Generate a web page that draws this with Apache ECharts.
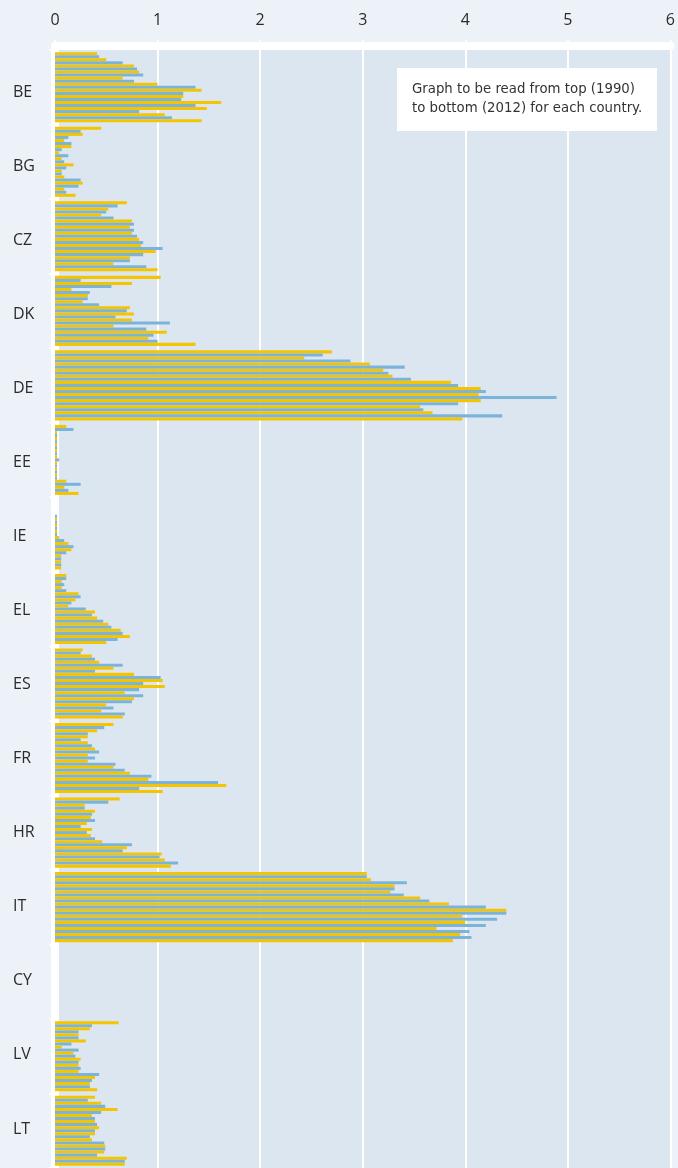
<!DOCTYPE html>
<html>
<head>
<meta charset="utf-8">
<script src="https://cdn.jsdelivr.net/npm/echarts@6/dist/echarts.min.js"></script>
<style>
  html, body { margin: 0; padding: 0; background: #edf2f9; }
  #chart { width: 678px; height: 1168px; }
</style>
</head>
<body>
<div id="chart"></div>
<script>
// Countries from top to bottom, and the years drawn inside each country band
const countries = ['BE', 'BG', 'CZ', 'DK', 'DE', 'EE', 'IE', 'EL', 'ES', 'FR', 'HR', 'IT', 'CY', 'LV', 'LT'];
const years = [1990, 1991, 1992, 1993, 1994, 1995, 1996, 1997, 1998, 1999, 2000, 2001,
               2002, 2003, 2004, 2005, 2006, 2007, 2008, 2009, 2010, 2011, 2012];
const xTicks = [0, 1, 2, 3, 4, 5, 6];

// One value per year (1990 → 2012) for each country
const BE = [0.41, 0.43, 0.50, 0.66, 0.77, 0.80, 0.82, 0.86, 0.66, 0.77, 1.00, 1.37, 1.43, 1.25, 1.25, 1.23, 1.62, 1.37, 1.48, 0.82, 1.07, 1.14, 1.43];
const BG = [0.45, 0.25, 0.27, 0.13, 0.09, 0.16, 0.16, 0.065, 0.04, 0.13, 0.065, 0.09, 0.18, 0.11, 0.065, 0.065, 0.09, 0.25, 0.27, 0.23, 0.09, 0.11, 0.20];
const CZ = [0.70, 0.61, 0.52, 0.50, 0.45, 0.57, 0.75, 0.77, 0.73, 0.77, 0.75, 0.80, 0.82, 0.86, 0.84, 1.05, 0.98, 0.86, 0.73, 0.73, 0.57, 0.89, 1.00];
const DK = [1.03, 0.25, 0.75, 0.55, 0.16, 0.34, 0.32, 0.32, 0.27, 0.43, 0.73, 0.70, 0.77, 0.59, 0.75, 1.12, 0.57, 0.89, 1.09, 0.96, 0.91, 1.00, 1.37];
const DE = [2.70, 2.61, 2.43, 2.88, 3.07, 3.41, 3.20, 3.25, 3.29, 3.47, 3.86, 3.93, 4.15, 4.20, 4.13, 4.89, 4.15, 3.93, 3.56, 3.59, 3.68, 4.36, 3.97];
const EE = [0.11, 0.18, 0.02, 0.02, 0.02, 0.02, 0.02, 0.02, 0.02, 0.02, 0.02, 0.04, 0.02, 0.02, 0.02, 0.02, 0.02, 0.02, 0.11, 0.25, 0.09, 0.13, 0.23];
const IE = [0, 0, 0, 0, 0, 0.02, 0.02, 0.02, 0.02, 0.02, 0.02, 0.02, 0.04, 0.09, 0.13, 0.18, 0.16, 0.11, 0.06, 0.06, 0.06, 0.06, 0.06];
const EL = [0.11, 0.11, 0.065, 0.09, 0.065, 0.11, 0.23, 0.25, 0.20, 0.16, 0.13, 0.30, 0.39, 0.36, 0.41, 0.47, 0.52, 0.55, 0.64, 0.66, 0.73, 0.61, 0.50];
const ES = [0.27, 0.25, 0.36, 0.39, 0.43, 0.66, 0.57, 0.39, 0.77, 1.03, 1.05, 0.86, 1.07, 0.82, 0.68, 0.86, 0.77, 0.75, 0.50, 0.57, 0.45, 0.68, 0.66];
const FR = [0.57, 0.48, 0.41, 0.32, 0.32, 0.25, 0.32, 0.36, 0.39, 0.43, 0.32, 0.39, 0.32, 0.59, 0.57, 0.68, 0.73, 0.94, 0.91, 1.59, 1.67, 0.82, 1.05];
const HR = [0.63, 0.52, 0.29, 0.29, 0.39, 0.36, 0.35, 0.39, 0.31, 0.25, 0.36, 0.31, 0.35, 0.39, 0.46, 0.75, 0.70, 0.66, 1.04, 1.02, 1.07, 1.20, 1.13];
const IT = [3.04, 3.04, 3.08, 3.43, 3.31, 3.31, 3.27, 3.40, 3.56, 3.65, 3.84, 4.20, 4.40, 4.40, 3.97, 4.31, 4.00, 4.20, 3.72, 4.04, 3.95, 4.06, 3.88];
const CY = [0, 0, 0, 0, 0, 0, 0, 0, 0, 0, 0, 0, 0, 0, 0, 0, 0, 0, 0, 0, 0, 0, 0];
const LV = [0.62, 0.36, 0.34, 0.23, 0.23, 0.23, 0.30, 0.16, 0.065, 0.23, 0.18, 0.20, 0.25, 0.23, 0.23, 0.25, 0.23, 0.43, 0.39, 0.36, 0.34, 0.34, 0.41];
const LT = [0.39, 0.32, 0.45, 0.49, 0.61, 0.45, 0.36, 0.39, 0.39, 0.41, 0.43, 0.39, 0.39, 0.34, 0.36, 0.48, 0.49, 0.49, 0.48, 0.41, 0.70, 0.68, 0.68];

const countryValues = [BE, BG, CZ, DK, DE, EE, IE, EL, ES, FR, HR, IT, CY, LV, LT];

const note = ['Graph to be read from top (1990)', 'to bottom (2012) for each country.'];

const YELLOW = '#f5c400';
const BLUE = '#7cb4d9';
const FONT = 'Open Sans';

// One series per year; colours alternate yellow / blue starting with 1990
const series = years.map((yr, i) => ({
  name: String(yr),
  type: 'bar',
  xAxisIndex: 0,
  yAxisIndex: 0,
  barGap: '0%',
  barCategoryGap: '6%',
  itemStyle: { color: i % 2 === 0 ? YELLOW : BLUE },
  data: countryValues.map(v => v[i]),
  silent: true
}));

const chart = echarts.init(document.getElementById('chart'), null, { renderer: 'canvas' });
chart.setOption({
  animation: false,
  backgroundColor: '#edf2f9',
  grid: [
    {
      // plotting area
      show: true,
      left: 55,
      right: 6,
      top: 50,
      bottom: -1,
      backgroundColor: '#dce6f1',
      borderWidth: 0
    },
    {
      // country name column
      show: false,
      left: 55,
      right: 6,
      top: 55,
      bottom: 2
    }
  ],
  xAxis: [
    {
      type: 'value',
      gridIndex: 0,
      position: 'top',
      offset: 4,
      min: xTicks[0],
      max: xTicks[xTicks.length - 1],
      interval: 1,
      axisLine: { show: true, lineStyle: { color: '#ffffff', width: 8 } },
      axisTick: { show: true, length: 6, lineStyle: { color: '#ffffff', width: 1.5 } },
      splitLine: { show: true, showMinLine: false, lineStyle: { color: '#ffffff', width: 2 } },
      axisLabel: { color: '#2b2b2b', fontSize: 16, fontFamily: FONT, margin: 18 }
    },
    {
      type: 'value',
      gridIndex: 1,
      show: false
    }
  ],
  yAxis: [
    {
      type: 'category',
      gridIndex: 0,
      inverse: true,
      data: countries,
      offset: 4,
      axisLine: { show: true, lineStyle: { color: '#ffffff', width: 8 } },
      axisTick: { show: true, length: 6, lineStyle: { color: '#ffffff', width: 1.5 } },
      axisLabel: { show: false }
    },
    {
      type: 'category',
      gridIndex: 1,
      inverse: true,
      data: countries,
      axisLine: { show: false },
      axisTick: { show: false },
      splitLine: { show: false },
      axisLabel: { color: '#2b2b2b', fontSize: 16, fontFamily: FONT, align: 'left', margin: 42 }
    }
  ],
  graphic: [
    {
      type: 'group',
      left: 397,
      top: 68,
      z: 100,
      children: [
        { type: 'rect', z: 100, shape: { x: 0, y: 0, width: 260, height: 63 }, style: { fill: '#ffffff' } },
        {
          type: 'text',
          z: 101,
          x: 15,
          y: 12,
          style: {
            text: note.join('\n'),
            fill: '#333333',
            font: '13.3px "DejaVu Sans"',
            lineHeight: 19
          }
        }
      ]
    }
  ],
  series: series
});
</script>
</body>
</html>
